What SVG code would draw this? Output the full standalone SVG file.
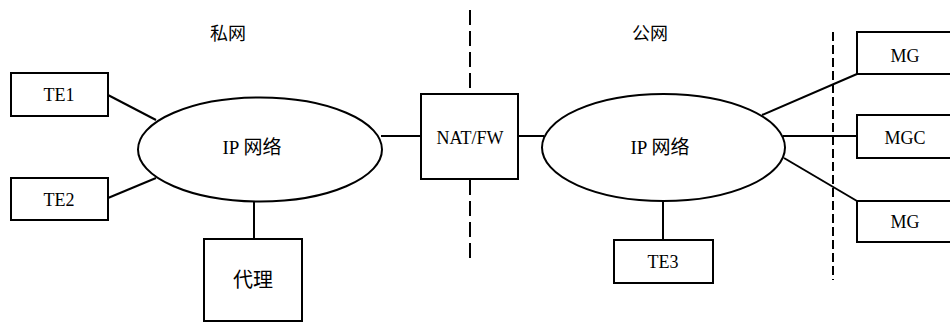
<svg xmlns="http://www.w3.org/2000/svg" width="950" height="322" viewBox="0 0 950 322">
<style>
.box{fill:#fff;stroke:#000;stroke-width:2}
.cloud{fill:#fff;stroke:#000;stroke-width:2}
.ln{stroke:#000;stroke-width:2;fill:none}
.dash{stroke:#000;stroke-width:2;fill:none}
.t{font-family:"Liberation Serif","Noto Sans CJK SC",serif;font-size:18px;fill:#000;text-anchor:middle;dominant-baseline:central}
.c{font-family:"Liberation Serif","Noto Sans CJK SC",serif;font-size:18px;fill:#000;text-anchor:middle;dominant-baseline:central}
.ip{font-size:19px}
.px{font-size:20px}
</style>
<rect width="950" height="322" fill="#fff"/>
<g id="connectors">
<line class="ln" x1="108" y1="95" x2="156" y2="120"/>
<line class="ln" x1="108" y1="198" x2="156" y2="178"/>
<line class="ln" x1="254" y1="200" x2="254" y2="239"/>
<line class="ln" x1="381" y1="136" x2="421" y2="136"/>
<line class="ln" x1="518" y1="136" x2="544" y2="136"/>
<line class="ln" x1="663" y1="200" x2="663" y2="240"/>
<line class="ln" x1="762" y1="115" x2="857" y2="74"/>
<line class="ln" x1="783" y1="136" x2="857" y2="136"/>
<line class="ln" x1="784" y1="158" x2="857" y2="201"/>
<line class="dash" x1="470" y1="10" x2="470" y2="94" stroke-dasharray="15 6"/>
<line class="dash" x1="470" y1="180" x2="470" y2="258" stroke-dasharray="15 6"/>
<line class="dash" x1="833" y1="32" x2="833" y2="280" stroke-dasharray="9 4"/>
</g>
<text class="c" x="228" y="34">私网</text>
<text class="c" x="650" y="34">公网</text>
<g id="te1"><rect class="box" x="11" y="73" width="97" height="43"/><text class="t" x="59" y="95">TE1</text></g>
<g id="te2"><rect class="box" x="11" y="178" width="97" height="42"/><text class="t" x="59" y="200">TE2</text></g>
<g id="ipnet1"><ellipse class="cloud" cx="260" cy="149.5" rx="122" ry="52"/><text class="c ip" x="252" y="147">IP 网络</text></g>
<g id="proxy"><rect class="box" x="204" y="239" width="98" height="82"/><text class="c px" x="253" y="280">代理</text></g>
<g id="natfw"><rect class="box" x="421" y="94" width="97" height="85"/><text class="t" x="470" y="138">NAT/FW</text></g>
<g id="ipnet2"><ellipse class="cloud" cx="663.5" cy="147.5" rx="121.5" ry="53.5"/><text class="c ip" x="660" y="147">IP 网络</text></g>
<g id="te3"><rect class="box" x="614" y="240" width="99" height="43"/><text class="t" x="663" y="262">TE3</text></g>
<g id="mg1"><rect class="box" x="857" y="32" width="100" height="42"/><text class="t" x="905" y="56">MG</text></g>
<g id="mgc"><rect class="box" x="857" y="115" width="100" height="43"/><text class="t" x="905" y="138">MGC</text></g>
<g id="mg2"><rect class="box" x="857" y="201" width="100" height="41"/><text class="t" x="905" y="222">MG</text></g>
</svg>
